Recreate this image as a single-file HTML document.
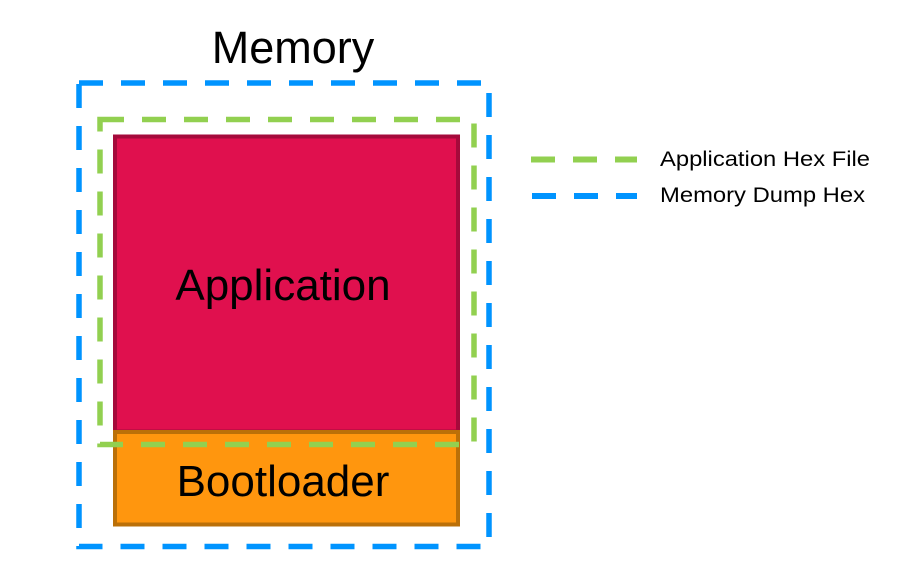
<!DOCTYPE html>
<html><head><style>body{margin:0;background:#fff}</style></head><body>
<svg width="923" height="578" xmlns="http://www.w3.org/2000/svg" font-family="Liberation Sans, sans-serif">
<rect width="923" height="578" fill="#fff"/>
<text x="293" y="63" font-size="45" text-anchor="middle" fill="#000">Memory</text>
<rect x="115" y="136.5" width="343" height="295" fill="#E0104E" stroke="#A50A3B" stroke-width="4"/>
<rect x="115" y="432" width="343" height="92.5" fill="#FF960E" stroke="#BB7008" stroke-width="4"/>
<text x="283" y="300" font-size="44" text-anchor="middle" fill="#000">Application</text>
<text x="283" y="496" font-size="44" text-anchor="middle" fill="#000">Bootloader</text>
<rect x="100" y="119.5" width="374" height="325" fill="none" stroke="#92D050" stroke-width="5.5" stroke-dasharray="24 18"/>
<rect x="79" y="83" width="410" height="463.5" fill="none" stroke="#0094FF" stroke-width="5.5" stroke-dasharray="24 18"/>
<line x1="531" y1="159.5" x2="637" y2="159.5" stroke="#92D050" stroke-width="6" stroke-dasharray="24 18"/>
<line x1="532" y1="196" x2="637" y2="196" stroke="#0094FF" stroke-width="6" stroke-dasharray="24 18"/>
<text x="660" y="166" font-size="21" textLength="210" lengthAdjust="spacingAndGlyphs" fill="#000">Application Hex File</text>
<text x="660" y="202" font-size="21" textLength="205" lengthAdjust="spacingAndGlyphs" fill="#000">Memory Dump Hex</text>
</svg>
</body></html>
